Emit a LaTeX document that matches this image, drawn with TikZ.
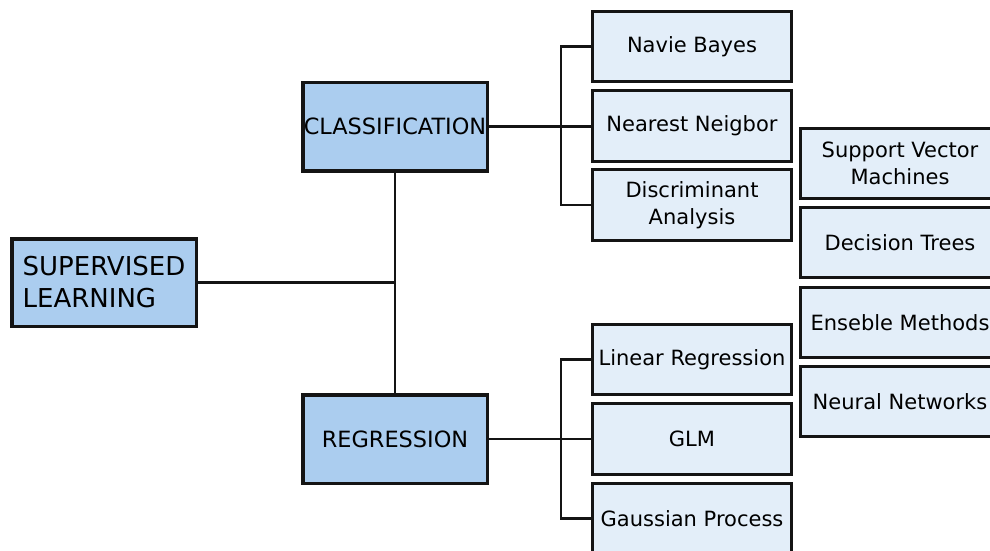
\documentclass[tikz,border=0pt]{standalone}
\usepackage{fontspec}
\setmainfont{DejaVu Sans}
\usepackage{tikz}
\usetikzlibrary{positioning}
\definecolor{catblue}{RGB}{171,205,239}
\definecolor{leafblue}{RGB}{227,238,249}
\definecolor{edgegray}{RGB}{20,20,20}
\tikzset{
  rootbox/.style={draw=edgegray, line width=3.5pt, fill=catblue, align=left,
    minimum width=184.5pt, minimum height=87.5pt, inner sep=2pt,
    font=\fontsize{26}{32}\selectfont},
  catbox/.style={draw=edgegray, line width=3.5pt, fill=catblue, align=center,
    minimum width=184.5pt, minimum height=88.5pt, inner sep=1pt,
    font=\fontsize{22.4}{27}\selectfont},
  leafbox/.style={draw=edgegray, line width=3pt, fill=leafblue, align=center,
    minimum width=199pt, minimum height=70.5pt, inner sep=2pt,
    font=\fontsize{21}{26.5}\selectfont},
  link/.style={line width=2.2pt, edgegray}
}

\begin{document}
\begin{tikzpicture}[x=1pt, y=-1pt]
  \useasboundingbox (0,0) rectangle (990,551);
  \clip (0,0) rectangle (990,551);
  % main categories
  \node[rootbox] (sup) at (104,282.5) {SUPERVISED\\LEARNING};
  \node[catbox] (cls) at (395,126.5) {CLASSIFICATION};
  \node[catbox] (reg) at (395,439) {REGRESSION};
  % classification methods
  \node[leafbox] (nb) at (692,46.5) {Navie Bayes};
  \node[leafbox] (nn) at (692,126) {Nearest Neigbor};
  \node[leafbox] (da) at (692,205) {Discriminant\\Analysis};
  % regression methods
  \node[leafbox] (lr) at (692,359.5) {Linear Regression};
  \node[leafbox] (glm) at (692,439) {GLM};
  \node[leafbox] (gp) at (692,518.5) {Gaussian Process};
  % shared methods
  \node[leafbox] (svm) at (900,163.5) {Support Vector\\Machines};
  \node[leafbox] (dt) at (900,242.5) {Decision Trees};
  \node[leafbox] (em) at (900,322.5) {Enseble Methods};
  \node[leafbox] (nnet) at (900,401.5) {Neural Networks};
  % connectors
  \draw[link] (cls.south) -- (reg.north);
  \draw[link] (sup.east) -- (sup.east -| cls.south);
  \draw[link] (cls.east) -- (cls.east -| nn.west);
  \draw[link] (nb.west) -- ++(-30,0) |- (da.west);
  \draw[link] (reg.east) -- (reg.east -| glm.west);
  \draw[link] (lr.west) -- ++(-30,0) |- (gp.west);
\end{tikzpicture}
\end{document}
